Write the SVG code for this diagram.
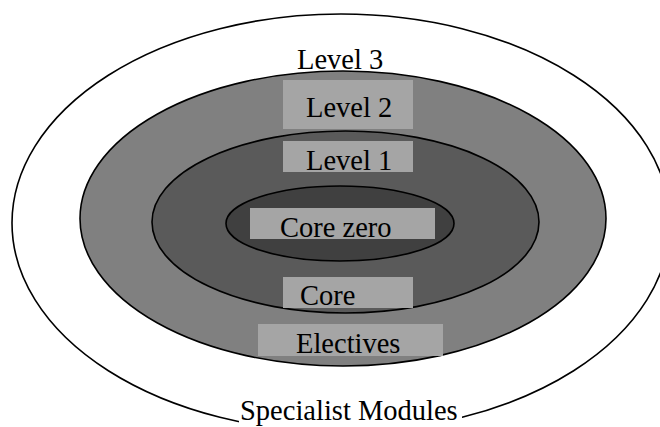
<svg xmlns="http://www.w3.org/2000/svg" width="660" height="427" viewBox="0 0 660 427">
  <style>
    .ring { stroke: #000; stroke-width: 1.6; }
    .box { fill: #a5a5a5; }
    .lbl { font-family: "Liberation Serif", "Times New Roman", serif; font-size: 28.5px; fill: #000; }
  </style>
  <rect width="660" height="427" fill="#fff"/>

  <!-- Level 3: specialist modules -->
  <g id="level3">
    <ellipse class="ring" cx="341" cy="223" rx="329" ry="209" fill="#fff"/>
  </g>

  <!-- Level 2: electives -->
  <g id="level2">
    <ellipse class="ring" cx="343" cy="218.5" rx="263" ry="147.5" fill="#808080"/>
  </g>

  <!-- Level 1: core -->
  <g id="level1">
    <ellipse class="ring" cx="345.5" cy="222" rx="193.5" ry="91" fill="#5a5a5a"/>
  </g>

  <!-- Core zero -->
  <g id="corezero">
    <ellipse class="ring" cx="340" cy="223.5" rx="114" ry="37.5" fill="#404040"/>
  </g>

  <!-- labels -->
  <g id="label-level3">
    <text class="lbl" x="297" y="69">Level 3</text>
  </g>
  <g id="label-level2">
    <rect class="box" x="283" y="80" width="130" height="49"/>
    <text class="lbl" x="306" y="117">Level 2</text>
  </g>
  <g id="label-level1">
    <rect class="box" x="283" y="141" width="130" height="31"/>
    <text class="lbl" x="306" y="170">Level 1</text>
  </g>
  <g id="label-corezero">
    <rect class="box" x="250" y="208" width="185" height="31"/>
    <text class="lbl" x="280" y="237">Core zero</text>
  </g>
  <g id="label-core">
    <rect class="box" x="283" y="277" width="130" height="31"/>
    <text class="lbl" x="300" y="305">Core</text>
  </g>
  <g id="label-electives">
    <rect class="box" x="258" y="324" width="185" height="32"/>
    <text class="lbl" x="296" y="353">Electives</text>
  </g>
  <g id="label-specialist">
    <rect x="239" y="399" width="223" height="28" fill="#fff"/>
    <text class="lbl" x="240" y="420">Specialist Modules</text>
  </g>
</svg>
